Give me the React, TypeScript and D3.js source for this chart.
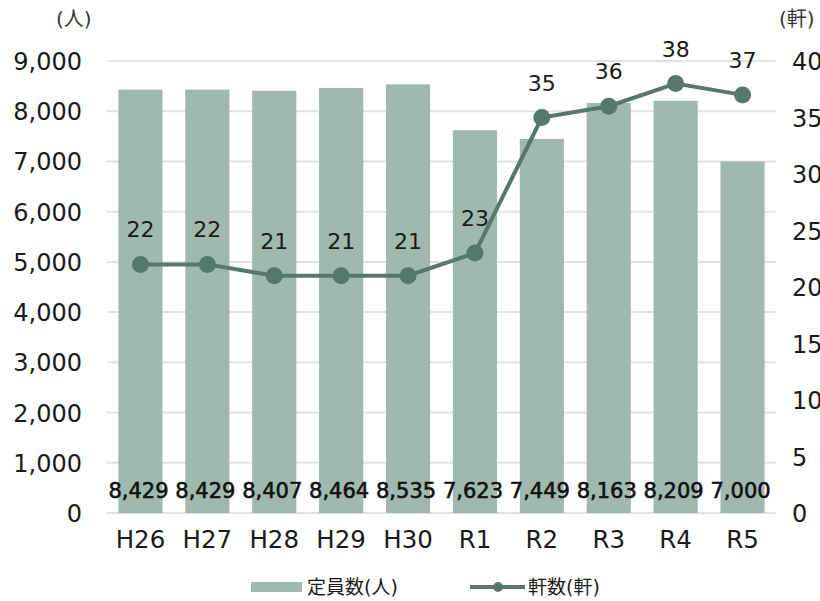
import { useEffect, useRef } from 'react';
import * as d3 from 'd3';

const categories = ['H26', 'H27', 'H28', 'H29', 'H30', 'R1', 'R2', 'R3', 'R4', 'R5'];
const capacity = [8429, 8429, 8407, 8464, 8535, 7623, 7449, 8163, 8209, 7000];
const facilities = [22, 22, 21, 21, 21, 23, 35, 36, 38, 37];
const leftTicks = [0, 1000, 2000, 3000, 4000, 5000, 6000, 7000, 8000, 9000];
const rightTicks = [0, 5, 10, 15, 20, 25, 30, 35, 40];

const App = () => {
  const svgRef = useRef<SVGSVGElement>(null);

  const width = 820;
  const height = 601;
  const plot = { left: 107, right: 776, top: 61, bottom: 513 };
  const barColor = '#9fb9ae';
  const lineColor = '#55786b';
  const font = '"DejaVu Sans", "Noto Sans CJK JP", sans-serif';

  useEffect(() => {
    if (!svgRef.current) return;
    const svg = d3.select(svgRef.current);
    svg.selectAll('*').remove();

    const x = d3.scaleBand()
      .domain(categories)
      .range([plot.left, plot.right])
      .paddingInner(0.34)
      .paddingOuter(0.17);

    const yLeft = d3.scaleLinear().domain([0, 9000]).range([plot.bottom, plot.top]);
    const yRight = d3.scaleLinear().domain([0, 40]).range([plot.bottom, plot.top]);
    const cx = (i: number) => (x(categories[i]) as number) + x.bandwidth() / 2;

    // gridlines
    svg.append('g')
      .selectAll('line')
      .data(leftTicks)
      .enter()
      .append('line')
      .attr('x1', plot.left)
      .attr('x2', plot.right)
      .attr('y1', d => yLeft(d))
      .attr('y2', d => yLeft(d))
      .attr('stroke', '#e2e2e2')
      .attr('stroke-width', 2);

    // left axis labels
    svg.append('g')
      .selectAll('text')
      .data(leftTicks)
      .enter()
      .append('text')
      .attr('x', 82)
      .attr('y', d => yLeft(d) + 9)
      .attr('text-anchor', 'end')
      .style('font-size', '24px')
      .style('font-family', font)
      .attr('fill', '#1a1a1a')
      .text(d => d3.format(',')(d));

    // right axis labels
    svg.append('g')
      .selectAll('text')
      .data(rightTicks)
      .enter()
      .append('text')
      .attr('x', 792)
      .attr('y', d => yRight(d) + 9)
      .attr('text-anchor', 'start')
      .style('font-size', '24px')
      .style('font-family', font)
      .attr('fill', '#1a1a1a')
      .text(d => d);

    // unit labels
    svg.append('text')
      .attr('x', 56)
      .attr('y', 26)
      .style('font-size', '20px')
      .style('font-family', font)
      .attr('fill', '#333')
      .text('(人)');

    svg.append('text')
      .attr('x', 779)
      .attr('y', 26)
      .style('font-size', '20px')
      .style('font-family', font)
      .attr('fill', '#333')
      .text('(軒)');

    // bars
    svg.append('g')
      .selectAll('rect')
      .data(capacity)
      .enter()
      .append('rect')
      .attr('x', (d, i) => x(categories[i]) as number)
      .attr('y', d => yLeft(d))
      .attr('width', x.bandwidth())
      .attr('height', d => yLeft(0) - yLeft(d))
      .attr('fill', barColor);

    // bar value labels
    svg.append('g')
      .selectAll('text')
      .data(capacity)
      .enter()
      .append('text')
      .attr('x', (d, i) => cx(i) - 2)
      .attr('y', 498)
      .attr('text-anchor', 'middle')
      .style('font-size', '21px')
      .style('font-family', font)
      .attr('fill', '#111')
      .attr('stroke', '#111')
      .attr('stroke-width', 0.6)
      .text(d => d3.format(',')(d));

    // x labels
    svg.append('g')
      .selectAll('text')
      .data(categories)
      .enter()
      .append('text')
      .attr('x', (d, i) => cx(i))
      .attr('y', 548)
      .attr('text-anchor', 'middle')
      .style('font-size', '24.5px')
      .style('font-family', font)
      .attr('fill', '#1a1a1a')
      .text(d => d);

    // line
    const line = d3.line<number>()
      .x((d, i) => cx(i))
      .y(d => yRight(d));

    svg.append('path')
      .datum(facilities)
      .attr('d', line)
      .attr('fill', 'none')
      .attr('stroke', lineColor)
      .attr('stroke-width', 4);

    svg.append('g')
      .selectAll('circle')
      .data(facilities)
      .enter()
      .append('circle')
      .attr('cx', (d, i) => cx(i))
      .attr('cy', d => yRight(d))
      .attr('r', 8.5)
      .attr('fill', lineColor);

    svg.append('g')
      .selectAll('text')
      .data(facilities)
      .enter()
      .append('text')
      .attr('x', (d, i) => cx(i))
      .attr('y', d => yRight(d) - 27)
      .attr('text-anchor', 'middle')
      .style('font-size', '22px')
      .style('font-family', font)
      .attr('fill', '#1a1a1a')
      .text(d => d);

    // legend
    const legend = svg.append('g');
    legend.append('rect')
      .attr('x', 251)
      .attr('y', 582)
      .attr('width', 51)
      .attr('height', 10)
      .attr('fill', barColor);
    legend.append('text')
      .attr('x', 307)
      .attr('y', 594)
      .style('font-size', '19px')
      .style('font-family', font)
      .attr('fill', '#1a1a1a')
      .text('定員数(人)');
    legend.append('line')
      .attr('x1', 470)
      .attr('x2', 525)
      .attr('y1', 587)
      .attr('y2', 587)
      .attr('stroke', lineColor)
      .attr('stroke-width', 4);
    legend.append('circle')
      .attr('cx', 498)
      .attr('cy', 587)
      .attr('r', 5)
      .attr('fill', lineColor);
    legend.append('text')
      .attr('x', 528)
      .attr('y', 594)
      .style('font-size', '19px')
      .style('font-family', font)
      .attr('fill', '#1a1a1a')
      .text('軒数(軒)');
  }, []);

  return (
    <svg
      ref={svgRef}
      width={width}
      height={height}
      style={{ position: 'absolute', left: 0, top: 0, background: '#fff' }}
    />
  );
};

export default App;
